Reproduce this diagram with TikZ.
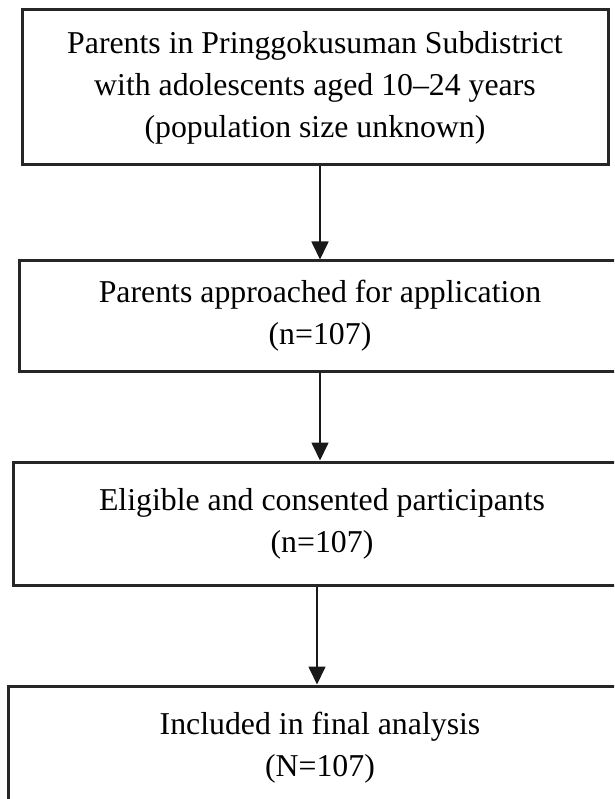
\documentclass[tikz,border=0pt]{standalone}
\usepackage{fontspec}
\setmainfont{Liberation Serif}
\usetikzlibrary{arrows.meta,positioning}

\begin{document}
\begin{tikzpicture}[
    x=1pt, y=-1pt,
    box/.style={
        rectangle,
        draw=black!85,
        line width=3pt,
        align=center,
        inner sep=0pt,
        font=\fontsize{31.8}{42}\selectfont
    },
    arrow/.style={-{Triangle[width=17pt,length=18pt]}, line width=1.7pt, black!90}
]

% Page frame
\clip (0,0) rectangle (614,799);
\fill[white] (0,0) rectangle (614,799);

% Nodes
\node[box, minimum width=586pt, minimum height=155pt] (pop) at (315, 87.5)
    {Parents in Pringgokusuman Subdistrict\\with adolescents aged 10--24 years\\(population size unknown)};
\node[box, minimum width=602pt, minimum height=110pt] (approach) at (320, 316)
    {Parents approached for application\\(n=107)};
\node[box, minimum width=618pt, minimum height=123pt] (eligible) at (322, 523.5)
    {Eligible and consented participants\\(n=107)};
\node[box, minimum width=624pt, minimum height=124pt] (final) at (320, 748)
    {Included in final analysis\\(N=107)};

% Arrows
\draw[arrow] (approach.north |- pop.south) -- (approach.north);
\draw[arrow] (approach.south) -- (approach.south |- eligible.north);
\draw[arrow] ([xshift=-5pt]eligible.south) -- ([xshift=-5pt]eligible.south |- final.north);

\end{tikzpicture}
\end{document}
